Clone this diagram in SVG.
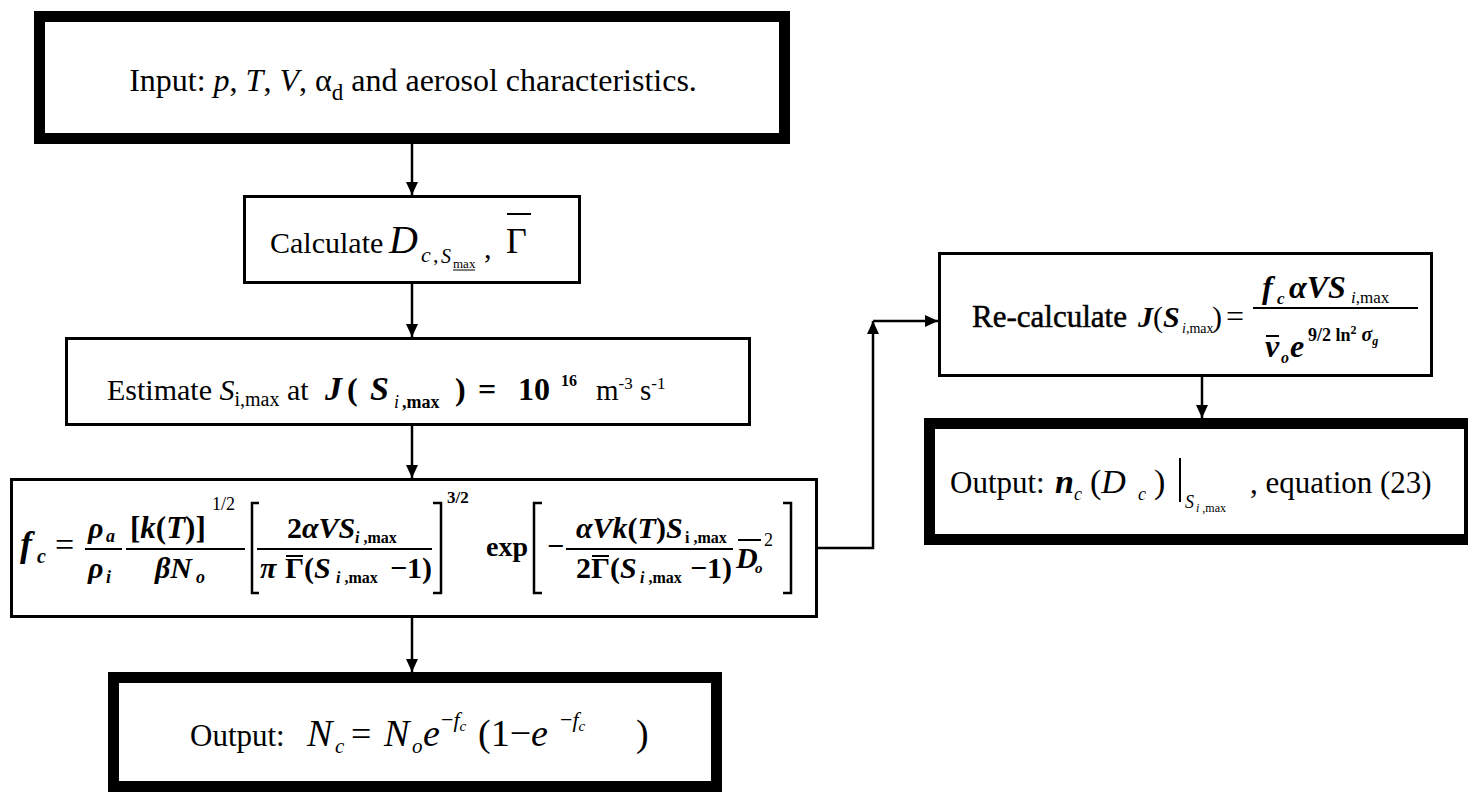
<svg xmlns="http://www.w3.org/2000/svg" width="1468" height="797" viewBox="0 0 1468 797" font-family="Liberation Serif">
<defs>
<marker id="ah" markerUnits="userSpaceOnUse" markerWidth="14" markerHeight="12" refX="13" refY="6" orient="auto">
<path d="M0,0 L13,6 L0,12 z" fill="#000"/>
</marker>
<style>
.thick{fill:#fff;stroke:#000;stroke-width:11}
.thin{fill:#fff;stroke:#000;stroke-width:3}
.it{font-style:italic}
.bi{font-style:italic;font-weight:bold}
.b{font-weight:bold}
.conn{stroke:#000;stroke-width:2.5;fill:none}
.fl{stroke:#000;stroke-width:2}
.br{stroke:#000;stroke-width:2.5;fill:none}
</style>
</defs>
<rect width="1468" height="797" fill="#fff"/>

<g id="connectors">
<line class="conn" x1="412" y1="143" x2="412" y2="195" marker-end="url(#ah)"/>
<line class="conn" x1="412" y1="283" x2="412" y2="337" marker-end="url(#ah)"/>
<line class="conn" x1="412" y1="425" x2="412" y2="478" marker-end="url(#ah)"/>
<line class="conn" x1="412" y1="617" x2="412" y2="672" marker-end="url(#ah)"/>
<polyline class="conn" points="818,548 873,548 873,321" marker-end="url(#ah)"/>
<line class="conn" x1="873" y1="321" x2="938" y2="321" marker-end="url(#ah)"/>
<line class="conn" x1="1202" y1="376" x2="1202" y2="418" marker-end="url(#ah)"/>
</g>

<g id="input">
<rect class="thick" x="39.5" y="16.5" width="745" height="122"/>
<text x="413" y="91" font-size="32" text-anchor="middle">Input: <tspan class="it">p</tspan>, <tspan class="it">T</tspan>, <tspan class="it">V</tspan>, α<tspan font-size="23" dy="9">d</tspan><tspan dy="-9"> and aerosol characteristics.</tspan></text>
</g>

<g id="calculate">
<rect class="thin" x="244.5" y="196.5" width="335" height="86"/>
<text x="270" y="253" font-size="30">Calculate</text>
<text class="it" x="389" y="253" font-size="40">D</text>
<text class="it" x="421" y="262" font-size="22">c</text>
<text x="433" y="262" font-size="22">,</text>
<text class="it" x="441" y="263" font-size="20">S</text>
<text x="453" y="268" font-size="13">max</text>
<line x1="453" y1="270" x2="475" y2="270" stroke="#000" stroke-width="1"/>
<text x="484" y="258" font-size="30">,</text>
<text x="506" y="253" font-size="36">Γ</text>
<line x1="507" y1="214" x2="531" y2="214" stroke="#000" stroke-width="2"/>
</g>

<g id="estimate">
<rect class="thin" x="66.5" y="338.5" width="683" height="86"/>
<text x="107" y="400" font-size="30">Estimate <tspan class="it">S</tspan><tspan font-size="20" dy="6">i,max</tspan><tspan dy="-6"> at</tspan></text>
<text class="bi" x="325" y="400" font-size="34">J</text>
<text class="b" x="347" y="400" font-size="32">(</text>
<text class="bi" x="370" y="400" font-size="34">S</text>
<text class="it" x="394" y="408" font-size="18">i</text>
<text class="b" x="402" y="408" font-size="18">,max</text>
<text class="b" x="455" y="400" font-size="32">)</text>
<text class="b" x="478" y="400" font-size="32">=</text>
<text class="b" x="518" y="400" font-size="32">10</text>
<text class="b" x="561" y="386" font-size="16">16</text>
<text x="596" y="400" font-size="29">m<tspan font-size="17" dy="-11">-3</tspan><tspan dy="11"> s</tspan><tspan font-size="17" dy="-11">-1</tspan></text>
</g>

<g id="fc">
<rect class="thin" x="11.5" y="479.5" width="805" height="137"/>
<text class="bi" x="20" y="556" font-size="36">f</text>
<text class="bi" x="37" y="563" font-size="20">c</text>
<text x="55" y="556" font-size="34">=</text>
<text class="bi" x="88" y="538" font-size="30">ρ</text>
<text class="bi" x="106" y="542" font-size="18">a</text>
<line class="fl" x1="85" y1="549" x2="122" y2="549"/>
<text class="bi" x="88" y="578" font-size="30">ρ</text>
<text class="bi" x="106" y="583" font-size="18">i</text>
<text class="b" x="130" y="538" font-size="31">[<tspan class="bi">k</tspan>(<tspan class="bi">T</tspan>)]</text>
<text x="212" y="510" font-size="18">1/2</text>
<line class="fl" x1="126" y1="549" x2="245" y2="549"/>
<text class="bi" x="155" y="578" font-size="30">βN</text>
<text class="bi" x="196" y="583" font-size="18">o</text>
<path class="br" d="M259,503 H252 V593 H259"/>
<text class="b" x="287" y="538" font-size="30">2<tspan class="it">αVS</tspan></text>
<text class="b" x="355" y="543" font-size="16"><tspan class="it">i</tspan> ,max</text>
<line class="fl" x1="257" y1="549" x2="432" y2="549"/>
<text class="bi" x="260" y="578" font-size="30">π</text>
<text class="b" x="285" y="578" font-size="30">Γ(<tspan class="it">S</tspan></text>
<line class="fl" x1="286" y1="556" x2="303" y2="556"/>
<text class="b" x="336" y="583" font-size="16"><tspan class="it">i</tspan> ,max</text>
<text class="b" x="390" y="578" font-size="30">−1)</text>
<path class="br" d="M433,503 H441 V593 H433"/>
<text class="b" x="447" y="503" font-size="17">3/2</text>
<text class="b" x="486" y="556" font-size="28">exp</text>
<path class="br" d="M542,503 H534 V593 H542"/>
<text class="b" x="547" y="556" font-size="30">−</text>
<text class="bi" x="576" y="538" font-size="30">αVk<tspan font-style="normal">(</tspan>T<tspan font-style="normal">)</tspan>S</text>
<text class="b" x="685" y="543" font-size="16">i ,max</text>
<line class="fl" x1="566" y1="549" x2="733" y2="549"/>
<text class="b" x="576" y="578" font-size="30">2Γ(<tspan class="it">S</tspan></text>
<line class="fl" x1="592" y1="556" x2="609" y2="556"/>
<text class="b" x="640" y="583" font-size="16"><tspan class="it">i</tspan> ,max</text>
<text class="b" x="690" y="578" font-size="30">−1)</text>
<text class="bi" x="736" y="568" font-size="30">D</text>
<line class="fl" x1="738" y1="540" x2="761" y2="540"/>
<text class="bi" x="755" y="573" font-size="15">o</text>
<text x="764" y="546" font-size="18">2</text>
<path class="br" d="M783,503 H791 V593 H783"/>
</g>

<g id="output">
<rect class="thick" x="113.5" y="677.5" width="603" height="109"/>
<text x="190" y="746" font-size="31">Output:</text>
<text class="it" x="307" y="746" font-size="38">N</text>
<text class="it" x="335" y="753" font-size="21">c</text>
<text x="351" y="746" font-size="36">=</text>
<text class="it" x="384" y="746" font-size="38">N</text>
<text class="it" x="412" y="753" font-size="21">o</text>
<text class="it" x="423" y="746" font-size="38">e</text>
<text x="441" y="727" font-size="22">−<tspan class="it">f</tspan><tspan class="it" font-size="15" dy="4">c</tspan></text>
<text x="478" y="746" font-size="38">(1−<tspan class="it">e</tspan></text>
<text x="560" y="727" font-size="22">−<tspan class="it">f</tspan><tspan class="it" font-size="15" dy="4">c</tspan></text>
<text x="636" y="746" font-size="38">)</text>
</g>

<g id="recalculate">
<rect class="thin" x="939.5" y="253.5" width="492" height="122"/>
<text x="972" y="327" font-size="31" stroke="#000" stroke-width="0.5">Re-calculate</text>
<text class="bi" x="1138" y="327" font-size="30">J</text>
<text x="1153" y="327" font-size="30">(</text>
<text class="bi" x="1163" y="327" font-size="30">S</text>
<text x="1182" y="333" font-size="14"><tspan class="it">i</tspan>,max</text>
<text x="1212" y="327" font-size="30">)</text>
<text x="1226" y="327" font-size="32">=</text>
<text class="bi" x="1262" y="298" font-size="32">f</text>
<text class="bi" x="1277" y="304" font-size="17">c</text>
<text class="bi" x="1289" y="298" font-size="32">αVS</text>
<text x="1351" y="303" font-size="17"><tspan class="it">i</tspan>,max</text>
<line class="fl" x1="1253" y1="308" x2="1418" y2="308"/>
<text class="bi" x="1265" y="357" font-size="32">v</text>
<line class="fl" x1="1266" y1="336" x2="1279" y2="336"/>
<text class="bi" x="1281" y="363" font-size="16">o</text>
<text class="bi" x="1290" y="357" font-size="32">e</text>
<text class="b" x="1308" y="341" font-size="18">9/2 ln<tspan font-size="12" dy="-7">2</tspan><tspan class="it" font-size="20" dy="7"> σ</tspan><tspan class="it" font-size="12" dy="4">g</tspan></text>
</g>

<g id="output2">
<rect class="thick" x="929.5" y="423.5" width="540" height="116"/>
<text x="950" y="493" font-size="31">Output:</text>
<text class="bi" x="1055" y="493" font-size="34">n</text>
<text class="it" x="1074" y="500" font-size="18">c</text>
<text x="1090" y="493" font-size="34">(<tspan class="it">D</tspan></text>
<text class="it" x="1138" y="500" font-size="18">c</text>
<text x="1154" y="493" font-size="34">)</text>
<line x1="1180" y1="458" x2="1180" y2="502" stroke="#000" stroke-width="2"/>
<text class="it" x="1185" y="508" font-size="18">S</text>
<text x="1196" y="512" font-size="12"><tspan class="it">i</tspan> ,max</text>
<text x="1250" y="493" font-size="31">, equation (23)</text>
</g>
</svg>
